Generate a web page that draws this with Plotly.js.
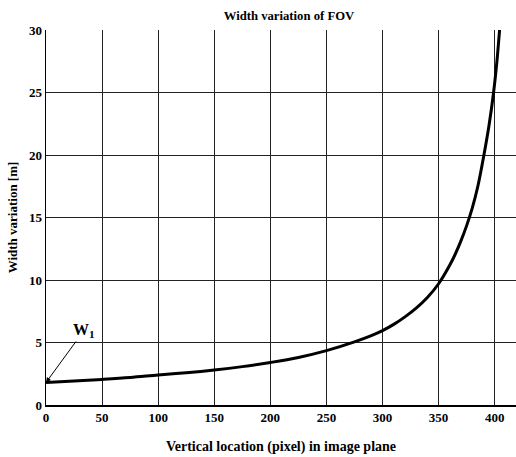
<!DOCTYPE html>
<html>
<head>
<meta charset="utf-8">
<script src="https://cdn.plot.ly/plotly-3.0.1.min.js"></script>
<style>html,body{margin:0;padding:0;background:#fff;}#chart{width:516px;height:457px;}</style>
</head>
<body>
<div id="chart"></div>
<script>
const xPixel = [0, 25, 50, 75, 100, 125, 150, 175, 200, 225, 250, 275, 290, 300, 310, 320, 330, 340, 350, 360, 365, 370, 375, 380, 385, 390, 395, 399, 402, 404, 405.5];
const widthM = [1.8, 1.92, 2.05, 2.2, 2.4, 2.58, 2.8, 3.07, 3.4, 3.8, 4.35, 5.05, 5.55, 5.95, 6.45, 7.05, 7.75, 8.6, 9.7, 11.2, 12.1, 13.15, 14.35, 15.75, 17.5, 19.8, 22.4, 25.0, 27.5, 29.6, 31.2];
const xTicks = [0, 50, 100, 150, 200, 250, 300, 350, 400];
const yTicks = [0, 5, 10, 15, 20, 25, 30];
const titleText = "Width variation of FOV";
const xTitle = "Vertical location (pixel) in image plane";
const yTitle = "Width variation [m]";

const font = {family: "Liberation Serif, Times New Roman, serif", color: "#000"};

Plotly.newPlot("chart", [{
  x: xPixel, y: widthM, type: "scatter", mode: "lines",
  line: {color: "#000", width: 3, shape: "spline", smoothing: 1},
  hoverinfo: "skip", showlegend: false, cliponaxis: true
}], {
  width: 516, height: 457,
  margin: {l: 46, r: 0, t: 30, b: 52},
  paper_bgcolor: "#fff", plot_bgcolor: "#fff",
  title: {text: "<b>" + titleText + "</b>", font: Object.assign({size: 12.7}, font), x: 0.56, xanchor: "center", y: 0.967, yanchor: "middle"},
  xaxis: {
    range: [0, 419], tickvals: xTicks, ticktext: xTicks.map(String),
    showgrid: true, gridcolor: "#222", gridwidth: 1,
    showline: true, linecolor: "#000", linewidth: 1.5,
    zeroline: false, ticks: "", ticklen: 0,
    tickfont: Object.assign({size: 13, weight: "bold"}, font),
    title: {text: "<b>" + xTitle + "</b>", font: Object.assign({size: 14}, font), standoff: 17}
  },
  yaxis: {
    range: [0, 30], tickvals: yTicks, ticktext: yTicks.map(String),
    showgrid: true, gridcolor: "#222", gridwidth: 1,
    showline: true, linecolor: "#000", linewidth: 1.5,
    zeroline: false, ticks: "", ticklen: 0,
    tickfont: Object.assign({size: 13, weight: "bold"}, font),
    title: {text: "<b>" + yTitle + "</b>", font: Object.assign({size: 13}, font), standoff: 8}
  },
  annotations: [{
    x: 0, y: 1.8, xref: "x", yref: "y",
    text: "<b>W<sub>1</sub></b>", font: Object.assign({size: 16}, font),
    showarrow: true, arrowhead: 2, arrowsize: 1, arrowwidth: 1, arrowcolor: "#000",
    ax: 38, ay: -52, standoff: 0
  }]
}, {displayModeBar: false, staticPlot: true});
</script>
</body>
</html>
